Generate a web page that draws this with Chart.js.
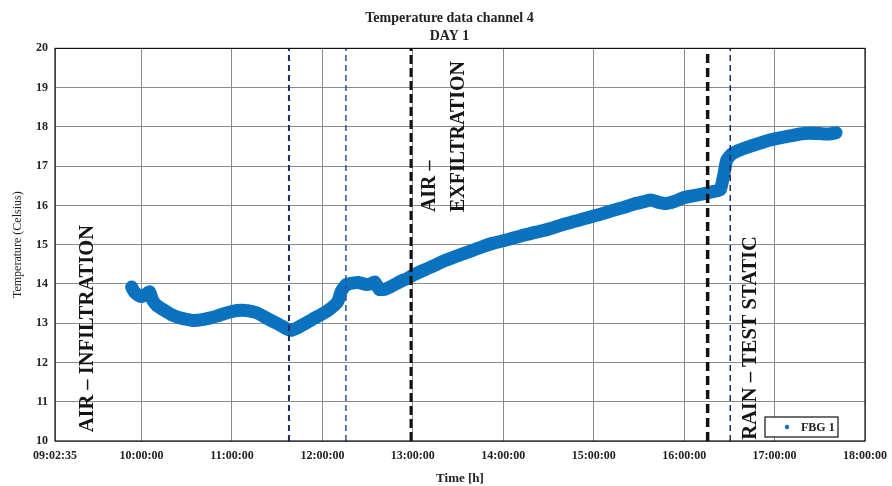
<!DOCTYPE html>
<html>
<head>
<meta charset="utf-8">
<script src="https://cdn.jsdelivr.net/npm/chart.js"></script>
<style>
  html, body { margin: 0; padding: 0; background: #fff; }
  #wrap { width: 892px; height: 486px; }
</style>
</head>
<body>
<div id="wrap"><canvas id="tempChart" width="892" height="486"></canvas></div>
<script>
// Datos (horas decimales / grados Celsius)
const timeHours = [9.89, 9.92, 9.96, 10.00, 10.05, 10.09, 10.12, 10.17, 10.25, 10.33, 10.42, 10.50, 10.58,
  10.67, 10.75, 10.83, 10.92, 11.02, 11.10, 11.17, 11.28, 11.36, 11.44, 11.52, 11.61, 11.66, 11.72,
  11.80, 11.89, 11.97, 12.06, 12.13, 12.17, 12.21, 12.26, 12.33, 12.40, 12.47, 12.53, 12.58, 12.63,
  12.70, 12.78, 12.86, 12.94, 13.00, 13.10, 13.22, 13.33, 13.44, 13.56, 13.67, 13.78, 13.89, 14.00,
  14.11, 14.22, 14.33, 14.44, 14.56, 14.67, 14.78, 14.89, 15.00, 15.11, 15.22, 15.33, 15.44, 15.56,
  15.63, 15.72, 15.80, 15.89, 16.00, 16.11, 16.22, 16.33, 16.40, 16.44, 16.47, 16.52, 16.60, 16.72,
  16.83, 16.94, 17.06, 17.17, 17.28, 17.39, 17.50, 17.60, 17.68];
const tempFbg1 = [13.92, 13.80, 13.72, 13.68, 13.74, 13.80, 13.60, 13.45, 13.33, 13.22, 13.14, 13.10, 13.07,
  13.09, 13.13, 13.18, 13.25, 13.31, 13.33, 13.32, 13.26, 13.16, 13.06, 12.97, 12.85, 12.82, 12.88,
  12.98, 13.10, 13.20, 13.32, 13.45, 13.55, 13.82, 13.98, 14.02, 14.04, 13.99, 14.00, 14.05, 13.86,
  13.87, 13.96, 14.06, 14.14, 14.22, 14.33, 14.45, 14.57, 14.67, 14.77, 14.86, 14.96, 15.04, 15.10,
  15.17, 15.24, 15.30, 15.36, 15.44, 15.52, 15.59, 15.66, 15.73, 15.80, 15.88, 15.95, 16.03, 16.10,
  16.14, 16.08, 16.05, 16.10, 16.20, 16.25, 16.30, 16.36, 16.40, 16.80, 17.15, 17.30, 17.40, 17.50,
  17.58, 17.66, 17.72, 17.77, 17.82, 17.84, 17.83, 17.82, 17.85];
const seriesLabel = 'FBG 1';

// Líneas verticales de eventos (horas)
const markerTimes = [11.63, 12.26, 12.98, 16.26, 16.51];

// Marcas del eje X
const xTickValues = [9.043, 10, 11, 12, 13, 14, 15, 16, 17, 18];
const xTickLabels = ['09:02:35', '10:00:00', '11:00:00', '12:00:00', '13:00:00',
  '14:00:00', '15:00:00', '16:00:00', '17:00:00', '18:00:00'];

// Textos de las fases (posición en horas / grados)
const noteLabels = ['AIR \u2013 INFILTRATION', 'AIR \u2013', 'EXFILTRATION', 'RAIN \u2013 TEST STATIC'];
const noteTimes = [9.41, 13.19, 13.51, 16.74];
const noteTemps = [10.22, 15.83, 15.83, 10.03];

// Estilos de las líneas verticales
const markerStyles = [
  { color: '#1c2c66', width: 2, dash: [6, 4] },
  { color: '#2a4f9e', width: 1.5, dash: [6, 4] },
  { color: '#111111', width: 3, dash: [9, 4] },
  { color: '#111111', width: 3.5, dash: [9, 5] },
  { color: '#1c2c66', width: 1.5, dash: [6, 4] }
];

const serif = '"Liberation Serif", "DejaVu Serif", serif';

const datasets = markerTimes.map((t, i) => ({
  label: 'marker' + i,
  data: [{ x: t, y: 10 }, { x: t, y: 20 }],
  borderColor: markerStyles[i].color,
  borderWidth: markerStyles[i].width,
  borderDash: markerStyles[i].dash,
  pointRadius: 0,
  fill: false
}));
datasets.push({
  label: seriesLabel,
  data: timeHours.map((t, i) => ({ x: t, y: tempFbg1[i] })),
  borderColor: '#0b72c0',
  backgroundColor: '#0b72c0',
  borderWidth: 13,
  borderCapStyle: 'round',
  borderJoinStyle: 'round',
  pointRadius: 0,
  tension: 0.15,
  fill: false
});

// Marco, textos rotados y leyenda
const extrasPlugin = {
  id: 'extras',
  afterLayout(chart) {
    // centrar el título como en la figura original
    if (chart.titleBlock) {
      chart.titleBlock.left = 34;
      chart.titleBlock.right = chart.chartArea.right;
    }
  },
  afterDatasetsDraw(chart) {
    const { ctx, chartArea, scales } = chart;
    ctx.save();
    ctx.strokeStyle = '#111';
    ctx.lineWidth = 1.2;
    ctx.strokeRect(chartArea.left, chartArea.top, chartArea.right - chartArea.left, chartArea.bottom - chartArea.top);

    ctx.fillStyle = '#151515';
    ctx.textAlign = 'left';
    ctx.textBaseline = 'middle';
    noteLabels.forEach((txt, i) => {
      const x = scales.x.getPixelForValue(noteTimes[i]);
      const y = scales.y.getPixelForValue(noteTemps[i]);
      ctx.font = 'bold ' + (i === 1 || i === 2 ? 20 : 20.5) + 'px ' + serif;
      ctx.save();
      ctx.translate(x, y);
      ctx.rotate(-Math.PI / 2);
      ctx.fillText(txt, 0, 0);
      ctx.restore();
    });

    // Leyenda dentro del área
    const ds = chart.data.datasets[chart.data.datasets.length - 1];
    const w = 73, h = 20;
    const bx = chartArea.right - 27 - w;
    const by = chartArea.bottom - 4 - h;
    ctx.fillStyle = '#fff';
    ctx.fillRect(bx, by, w, h);
    ctx.strokeStyle = '#222';
    ctx.lineWidth = 1.3;
    ctx.strokeRect(bx, by, w, h);
    ctx.fillStyle = ds.borderColor;
    ctx.beginPath();
    ctx.arc(bx + 22, by + h / 2, 2.2, 0, Math.PI * 2);
    ctx.fill();
    ctx.fillStyle = '#222';
    ctx.font = 'bold 12px ' + serif;
    ctx.fillText(ds.label, bx + 36, by + h / 2 + 1);
    ctx.restore();
  }
};

new Chart(document.getElementById('tempChart'), {
  type: 'line',
  data: { datasets },
  options: {
    responsive: false,
    animation: false,
    layout: { padding: { left: 0, right: 27, top: 0, bottom: 0 } },
    plugins: {
      legend: { display: false },
      tooltip: { enabled: false },
      title: {
        display: true,
        text: ['Temperature data channel 4', 'DAY 1'],
        color: '#222',
        font: { family: serif, size: 14, weight: 'bold', lineHeight: 1.3 },
        padding: { top: 9, bottom: 3 }
      }
    },
    scales: {
      x: {
        type: 'linear',
        min: xTickValues[0],
        max: 18,
        afterBuildTicks: (scale) => { scale.ticks = xTickValues.map(v => ({ value: v })); },
        afterFit: (scale) => {
          scale.height = 45;
          scale.paddingLeft = 0;
          scale.paddingRight = 0;
        },
        ticks: {
          autoSkip: false,
          maxRotation: 0,
          padding: 8,
          color: '#222',
          font: { family: serif, size: 12, weight: 'bold' },
          callback: (value, index) => xTickLabels[index]
        },
        grid: { color: '#8a8a8a', lineWidth: 1, drawTicks: false },
        border: { display: false },
        title: {
          display: true,
          text: 'Time [h]',
          color: '#222',
          font: { family: serif, size: 13, weight: 'bold' },
          padding: { top: 0, bottom: 0 }
        }
      },
      y: {
        min: 10,
        max: 20,
        afterFit: (scale) => { scale.width = 55; },
        ticks: {
          stepSize: 1,
          padding: 7,
          color: '#222',
          font: { family: serif, size: 12, weight: 'bold' }
        },
        grid: { color: '#8a8a8a', lineWidth: 1, drawTicks: false },
        border: { display: false },
        title: {
          display: true,
          text: 'Temperature (Celsius)',
          color: '#222',
          font: { family: serif, size: 12 },
          padding: { top: 11, bottom: 0 }
        }
      }
    }
  },
  plugins: [extrasPlugin]
});
</script>
</body>
</html>
